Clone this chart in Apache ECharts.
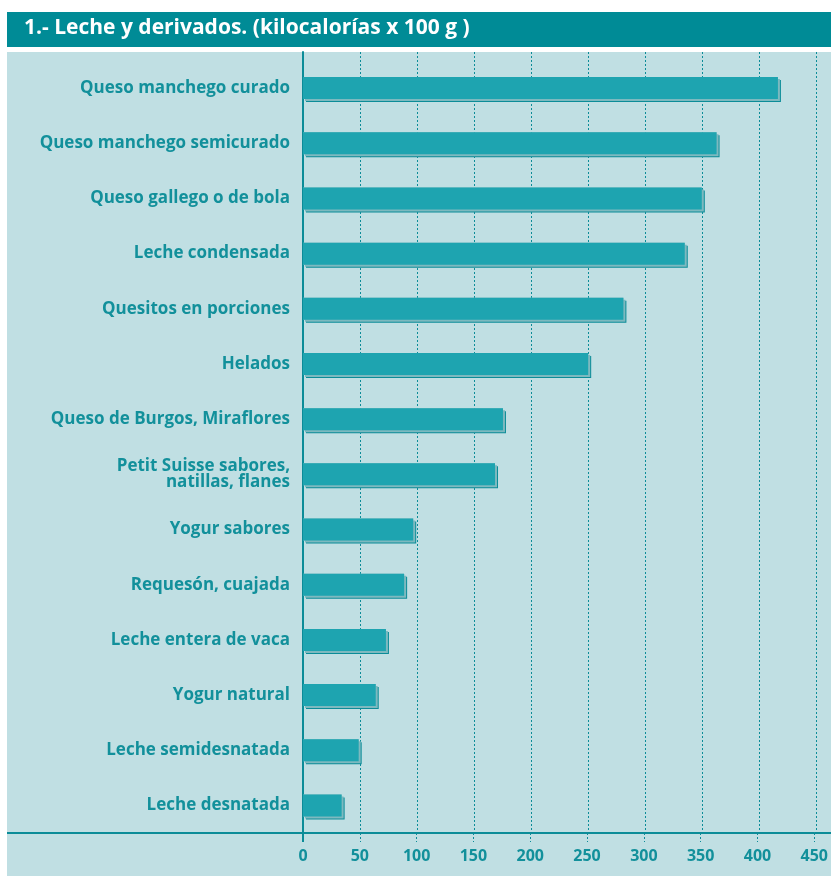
<!DOCTYPE html>
<html>
<head>
<meta charset="utf-8">
<script src="https://cdn.jsdelivr.net/npm/echarts@6/dist/echarts.min.js"></script>
<style>
html,body{margin:0;padding:0;background:#ffffff;}
#c{width:831px;height:876px;}
</style>
</head>
<body>
<div id="c"></div>
<script>
const titleText = '1.- Leche y derivados. (kilocalorías x 100 g )';
const categories = [
  'Queso manchego curado',
  'Queso manchego semicurado',
  'Queso gallego o de bola',
  'Leche condensada',
  'Quesitos en porciones',
  'Helados',
  'Queso de Burgos, Miraflores',
  'Petit Suisse sabores,\nnatillas, flanes',
  'Yogur sabores',
  'Requesón, cuajada',
  'Leche entera de vaca',
  'Yogur natural',
  'Leche semidesnatada',
  'Leche desnatada'
];
const kcal = [418, 364, 351, 336, 282, 251, 176, 169, 97, 89, 73, 64, 49, 34];
const tickStep = 50;
const axisMax = 450;

const TEAL = '#0b8c98';
const TEXT = '#12909b';
const FONT = '"Open Sans"';

const chart = echarts.init(document.getElementById('c'), null, {renderer: 'canvas'});

chart.setOption({
  animation: false,
  backgroundColor: '#ffffff',
  title: {
    text: titleText,
    left: 24, top: 18, padding: 0,
    textStyle: {color: '#ffffff', fontFamily: FONT, fontWeight: 'bold', fontSize: 21}
  },
  graphic: [
    {type: 'rect', z: -10, silent: true, shape: {x: 7, y: 12, width: 824, height: 35}, style: {fill: '#008b96'}},
    {type: 'rect', z: -10, silent: true, shape: {x: 7, y: 52, width: 824, height: 824}, style: {fill: '#c0dfe3'}},
    {type: 'line', z: 5, silent: true, shape: {x1: 7, y1: 833, x2: 304, y2: 833}, style: {stroke: TEAL, lineWidth: 2}},
    {type: 'line', z: 5, silent: true, shape: {x1: 815, y1: 833, x2: 831, y2: 833}, style: {stroke: TEAL, lineWidth: 2}},
    {type: 'line', z: 5, silent: true, shape: {x1: 303, y1: 833, x2: 303, y2: 842}, style: {stroke: TEAL, lineWidth: 2}}
  ],
  grid: [
    {left: 303, right: 15, top: 60.5, bottom: 43, containLabel: false},
    {left: 303, right: 15, top: 52, bottom: 43, containLabel: false}
  ],
  xAxis: [
    {
      type: 'value', gridIndex: 0, min: 0, max: axisMax, interval: tickStep,
      axisLine: {show: true, lineStyle: {color: TEAL, width: 2}},
      axisTick: {show: true, length: 9, lineStyle: {color: TEAL, width: 1, type: [2, 2]}},
      axisLabel: {
        margin: 15, color: TEXT, fontFamily: FONT, fontWeight: 'bold', fontSize: 16
      },
      splitLine: {show: false}
    },
    {
      type: 'value', gridIndex: 1, min: 0, max: axisMax, interval: tickStep,
      axisLine: {show: false}, axisTick: {show: false}, axisLabel: {show: false},
      splitLine: {show: true, lineStyle: {color: TEAL, width: 1, type: [2, 2]}}
    }
  ],
  yAxis: [
    {
      type: 'category', gridIndex: 0, data: categories, inverse: true,
      axisLine: {show: false},
      axisTick: {show: false},
      axisLabel: {
        margin: 13, color: TEXT, fontFamily: FONT, fontWeight: 'bold', fontSize: 17,
        lineHeight: 16, align: 'right', padding: [2, 0, 0, 0]
      },
      splitLine: {show: false}
    },
    {
      type: 'value', gridIndex: 1, min: 0, max: 1,
      axisLine: {show: true, lineStyle: {color: TEAL, width: 2}},
      axisTick: {show: false}, axisLabel: {show: false}, splitLine: {show: false}
    }
  ],
  series: [
    {
      type: 'bar', xAxisIndex: 0, yAxisIndex: 0, data: kcal, barWidth: 22, silent: true, z: 3,
      itemStyle: {color: '#7db9bf', shadowColor: TEAL, shadowBlur: 0, shadowOffsetX: 3, shadowOffsetY: 3}
    },
    {
      type: 'bar', xAxisIndex: 0, yAxisIndex: 0, data: kcal, barWidth: 22, barGap: '-100%', silent: true, z: 3,
      itemStyle: {color: '#1ea4b0', shadowColor: '#7db9bf', shadowBlur: 0, shadowOffsetX: 2, shadowOffsetY: 2}
    }
  ]
});
</script>
</body>
</html>
